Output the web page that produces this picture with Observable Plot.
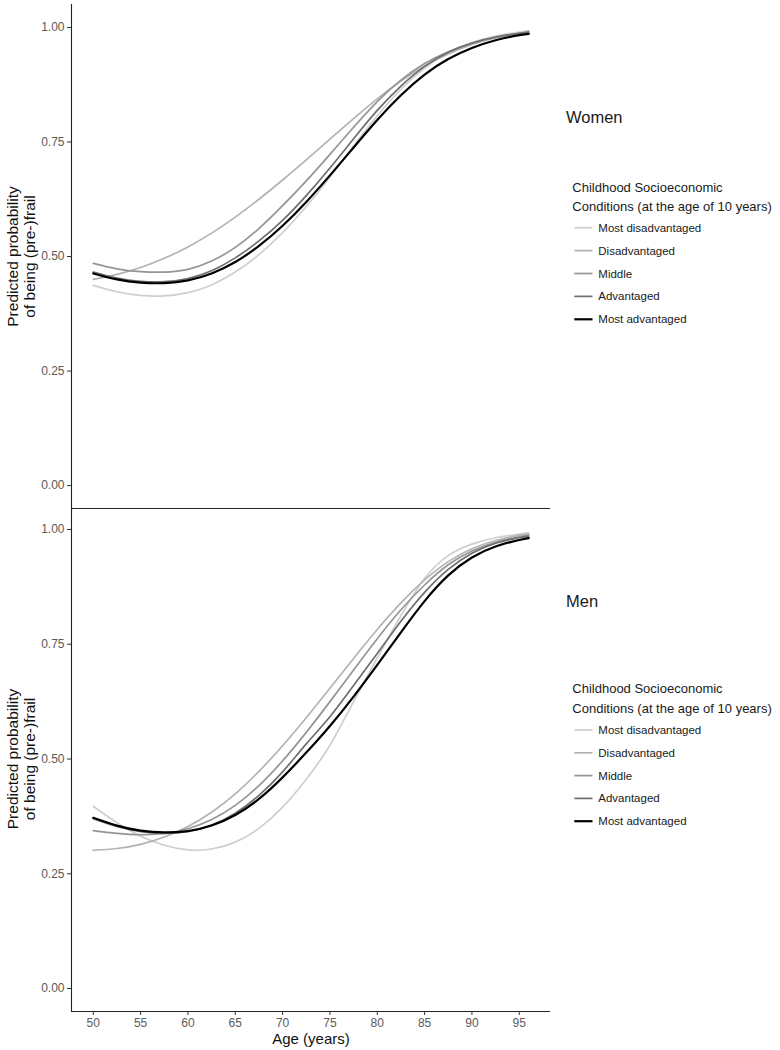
<!DOCTYPE html>
<html>
<head>
<meta charset="utf-8">
<script src="https://cdn.jsdelivr.net/npm/d3@7"></script>
<script src="https://cdn.jsdelivr.net/npm/@observablehq/plot@0.6"></script>
<style>
  html, body { margin: 0; padding: 0; background: #fff; }
  #wrap { position: relative; width: 780px; height: 1050px; overflow: hidden; font-family: "Liberation Sans", Arial, sans-serif; }
  #top, #bottom, #legend { position: absolute; left: 0; }
  #top { top: 0; z-index: 2; }
  #bottom { top: 500px; z-index: 1; }
  #legend { top: 0; left: 0; z-index: 3; pointer-events: none; }
</style>
</head>
<body>
<div id="wrap">
  <div id="bottom"></div>
  <div id="top"></div>
  <svg id="legend" width="780" height="1050"></svg>
</div>
<script>
// ---- data ----
const ages = [50, 52.5, 55, 57.5, 60, 62.5, 65, 67.5, 70, 72.5, 75, 77.5, 80, 82.5, 85, 87.5, 90, 92.5, 95, 96];
const categories = ["Most disadvantaged", "Disadvantaged", "Middle", "Advantaged", "Most advantaged"];
const colors = ["#cfcfcf", "#b3b3b3", "#959595", "#6e6e6e", "#000000"];
const panels = ["Women", "Men"];
const legendTitle = ["Childhood Socioeconomic", "Conditions (at the age of 10 years)"];
const yTicks = [0, 0.25, 0.5, 0.75, 1];
const xTicks = [50, 55, 60, 65, 70, 75, 80, 85, 90, 95];

// Women
const womenMostDisadv = [0.437, 0.423, 0.415, 0.414, 0.421, 0.438, 0.466, 0.504, 0.552, 0.609, 0.673, 0.741, 0.807, 0.865, 0.911, 0.945, 0.967, 0.981, 0.990, 0.993];
const womenDisadv     = [0.450, 0.461, 0.476, 0.496, 0.521, 0.551, 0.586, 0.625, 0.667, 0.711, 0.756, 0.801, 0.844, 0.883, 0.916, 0.942, 0.963, 0.977, 0.987, 0.990];
const womenMiddle     = [0.485, 0.473, 0.467, 0.466, 0.472, 0.490, 0.520, 0.561, 0.611, 0.665, 0.723, 0.782, 0.838, 0.885, 0.921, 0.947, 0.965, 0.978, 0.987, 0.990];
const womenAdv        = [0.466, 0.453, 0.446, 0.445, 0.452, 0.469, 0.497, 0.534, 0.579, 0.633, 0.693, 0.757, 0.819, 0.872, 0.915, 0.946, 0.966, 0.979, 0.987, 0.990];
const womenMostAdv    = [0.463, 0.450, 0.443, 0.442, 0.448, 0.463, 0.488, 0.523, 0.567, 0.619, 0.677, 0.738, 0.798, 0.852, 0.897, 0.931, 0.955, 0.972, 0.983, 0.986];

// Men
const menMostDisadv = [0.397, 0.361, 0.332, 0.312, 0.302, 0.304, 0.319, 0.349, 0.395, 0.456, 0.530, 0.625, 0.720, 0.812, 0.893, 0.943, 0.968, 0.982, 0.990, 0.993];
const menDisadv     = [0.301, 0.305, 0.314, 0.330, 0.353, 0.384, 0.424, 0.473, 0.529, 0.590, 0.654, 0.719, 0.782, 0.840, 0.890, 0.930, 0.958, 0.976, 0.987, 0.990];
const menMiddle     = [0.344, 0.338, 0.335, 0.338, 0.348, 0.368, 0.399, 0.442, 0.496, 0.558, 0.625, 0.694, 0.762, 0.825, 0.879, 0.923, 0.953, 0.972, 0.984, 0.987];
const menAdv        = [0.370, 0.353, 0.342, 0.338, 0.342, 0.356, 0.382, 0.421, 0.472, 0.533, 0.592, 0.660, 0.730, 0.800, 0.863, 0.913, 0.948, 0.970, 0.982, 0.985];
const menMostAdv    = [0.372, 0.355, 0.344, 0.340, 0.343, 0.355, 0.378, 0.413, 0.460, 0.514, 0.572, 0.636, 0.705, 0.776, 0.844, 0.900, 0.939, 0.963, 0.977, 0.981];

const series = {
  Women: [womenMostDisadv, womenDisadv, womenMiddle, womenAdv, womenMostAdv],
  Men: [menMostDisadv, menDisadv, menMiddle, menAdv, menMostAdv]
};

function rows(panel) {
  const out = [];
  series[panel].forEach((vals, i) => {
    vals.forEach((v, j) => out.push({age: ages[j], value: v, group: categories[i]}));
  });
  return out;
}

const FONT = '"Liberation Sans", Arial, sans-serif';
const xDomain = [47.7, 98.3];
const yDomain = [-0.05, 1.05];

function panelPlot(panel, isBottom) {
  const data = rows(panel);
  const grayData = data.filter(d => d.group !== categories[4]);
  const blackData = data.filter(d => d.group === categories[4]);
  const marks = [
    Plot.axisY({ticks: yTicks, tickFormat: d3.format(".2f"), tickSize: 4, tickPadding: 3, fontSize: 12, fill: "#5a5a5a", stroke: "#333", label: null}),
    Plot.ruleX([xDomain[0]], {stroke: "#222", strokeWidth: 1.1}),
    Plot.ruleY([yDomain[0]], {stroke: "#222", strokeWidth: 1.1}),
    Plot.line(grayData, {x: "age", y: "value", z: "group", stroke: "group", strokeWidth: 1.7, curve: "natural"}),
    Plot.line(blackData, {x: "age", y: "value", z: "group", stroke: "group", strokeWidth: 2.2, curve: "natural"}),
    Plot.text(["Predicted probability\nof being (pre-)frail"], {frameAnchor: "left", textAnchor: "middle", dx: -50.5, rotate: -90, fontSize: 15.5, fill: "#111", lineHeight: 1.1})
  ];
  if (isBottom) {
    marks.push(Plot.axisX({ticks: xTicks, tickSize: 4, tickPadding: 3, fontSize: 12, fill: "#5a5a5a", stroke: "#333", label: null}));
    marks.push(Plot.text(["Age (years)"], {frameAnchor: "bottom", dy: 32, fontSize: 15, fill: "#111"}));
  }
  return Plot.plot({
    width: 556,
    height: isBottom ? 550 : 510,
    marginLeft: 71,
    marginRight: 6,
    marginTop: isBottom ? 6 : 4,
    marginBottom: isBottom ? 39 : 2,
    style: {fontFamily: FONT, fontSize: "12px", background: "transparent", overflow: "visible"},
    x: {domain: xDomain, axis: null},
    y: {domain: yDomain, axis: null},
    color: {domain: categories, range: colors},
    marks
  });
}

document.getElementById("top").appendChild(panelPlot("Women", false));
document.getElementById("bottom").appendChild(panelPlot("Men", true));

// ---- legends and strip labels ----
const lg = d3.select("#legend").style("font-family", FONT);
const layout = [
  {panel: "Women", strip: 123.3, title: [191.7, 211], items: 231.7, step: 22.9},
  {panel: "Men", strip: 606.7, title: [693.3, 712.7], items: 734, step: 22.8}
];
layout.forEach(L => {
  lg.append("text").attr("x", 566).attr("y", L.strip).attr("font-size", 16.5).attr("fill", "#1a1a1a").text(L.panel);
  legendTitle.forEach((t, i) => {
    lg.append("text").attr("x", 572.3).attr("y", L.title[i]).attr("font-size", 13).attr("fill", "#1a1a1a").text(t);
  });
  categories.forEach((c, i) => {
    const y = L.items + i * L.step;
    lg.append("line").attr("x1", 574.3).attr("x2", 592.5).attr("y1", y - 4).attr("y2", y - 4)
      .attr("stroke", colors[i]).attr("stroke-width", i === 4 ? 2.2 : 1.7);
    lg.append("text").attr("x", 598.3).attr("y", y).attr("font-size", 11.5).attr("fill", "#1a1a1a").text(c);
  });
});
</script>
</body>
</html>
